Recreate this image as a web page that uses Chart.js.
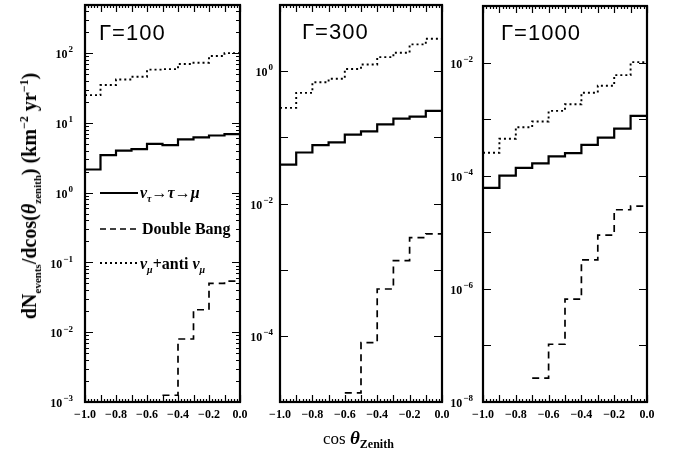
<!DOCTYPE html>
<html>
<head>
<meta charset="utf-8">
<script src="https://cdn.jsdelivr.net/npm/chart.js@4.4.1/dist/chart.umd.min.js"></script>
<style>
  html, body { margin: 0; padding: 0; background: #fff; }
  #wrap { position: relative; width: 678px; height: 451px; overflow: hidden; }
  canvas { position: absolute; left: 0; top: 0; }
  .txt { position: absolute; white-space: nowrap; color: #000; line-height: 1; }
  .gam { font-family: "Liberation Sans", Arial, sans-serif; font-size: 22px; letter-spacing: 1px; }
  .leg { font-family: "Liberation Serif", serif; font-weight: bold; font-size: 16px; transform: translateY(-50%); }
  .leg i { font-style: italic; }
  sub, sup { line-height: 0; }
</style>
</head>
<body>
<div id="wrap">
  <canvas id="c100" width="678" height="451"></canvas>
  <canvas id="c300" width="678" height="451"></canvas>
  <canvas id="c1000" width="678" height="451"></canvas>

  <div class="txt gam" style="left:99px; top:22px;">&Gamma;=100</div>
  <div class="txt gam" style="left:302px; top:21px;">&Gamma;=300</div>
  <div class="txt gam" style="left:501px; top:22px;">&Gamma;=1000</div>

  <svg style="position:absolute; left:100px; top:185px;" width="42" height="90">
    <line x1="0" y1="8" x2="38" y2="8" stroke="#000" stroke-width="2"/>
    <line x1="0" y1="44" x2="40" y2="44" stroke="#000" stroke-width="1.6" stroke-dasharray="6,4"/>
    <line x1="0" y1="78" x2="38" y2="78" stroke="#000" stroke-width="1.8" stroke-dasharray="2,3"/>
  </svg>
  <div class="txt leg" style="left:140px; top:193px;"><i>&nu;</i><sub style="font-size:10px"><i>&tau;</i></sub>&rarr;<i>&tau;</i>&rarr;<i>&mu;</i></div>
  <div class="txt leg" style="left:142px; top:229px;">Double Bang</div>
  <div class="txt leg" style="left:140px; top:264px;"><i>&nu;</i><sub style="font-size:10px"><i>&mu;</i></sub>+anti <i>&nu;</i><sub style="font-size:10px"><i>&mu;</i></sub></div>

  <div class="txt" style="left:29px; top:196px; transform: translate(-50%,-50%) rotate(-90deg); font-family:'Liberation Serif',serif; font-weight:bold; font-size:20px;">dN<sub style="font-size:11px">events</sub>/dcos(<i>&theta;</i><sub style="font-size:11px">zenith</sub>) (km<sup style="font-size:12px">&minus;2</sup> yr<sup style="font-size:12px">&minus;1</sup>)</div>

  <div class="txt" style="left:323px; top:428px; font-family:'Liberation Serif',serif; font-size:17px;">cos <b><i style="font-size:19px">&theta;</i></b><sub style="font-size:12px; font-weight:bold;">Zenith</sub></div>
</div>

<script>
// bin edges of cos(theta_zenith)
const edges = [-1.0, -0.9, -0.8, -0.7, -0.6, -0.5, -0.4, -0.3, -0.2, -0.1, 0.0];
const xTickValues = [-1.0, -0.8, -0.6, -0.4, -0.2, 0.0];

// Gamma = 100
const g100Tau  = [2.15, 3.45, 4.0, 4.2, 5.0, 4.8, 5.8, 6.2, 6.6, 6.9];
const g100Bang = [null, null, null, null, null, 1.25e-3, 8.0e-3, 0.021, 0.050, 0.054];
const g100Mu   = [25, 35, 42, 46, 58, 59, 70, 73, 91, 100];

// Gamma = 300
const g300Tau  = [0.0386, 0.059, 0.076, 0.084, 0.11, 0.123, 0.157, 0.192, 0.206, 0.251];
const g300Bang = [null, null, null, null, 1.37e-5, 7.9e-5, 5.1e-4, 1.37e-3, 3.05e-3, 3.47e-3];
const g300Mu   = [0.279, 0.47, 0.68, 0.77, 1.08, 1.26, 1.63, 1.90, 2.54, 3.09];

// Gamma = 1000
const g1000Tau  = [6.1e-5, 1.0e-4, 1.38e-4, 1.65e-4, 2.2e-4, 2.5e-4, 3.5e-4, 4.7e-4, 6.8e-4, 1.14e-3];
const g1000Bang = [null, null, null, 2.65e-8, 1.05e-7, 6.6e-7, 3.25e-6, 8.9e-6, 2.5e-5, 2.9e-5];
const g1000Mu   = [2.54e-4, 4.5e-4, 7.2e-4, 9.1e-4, 1.4e-3, 1.83e-3, 2.93e-3, 3.9e-3, 6.0e-3, 0.0102];

// labelled decades on each y axis
const yTicks100  = [1e-3, 1e-2, 1e-1, 1e0, 1e1, 1e2];
const yTicks300  = [1e-4, 1e-2, 1e0];
const yTicks1000 = [1e-8, 1e-6, 1e-4, 1e-2];

const W = 678, H = 451;
const serif = "'Liberation Serif', serif";
const tickFont = { family: serif, size: 12, weight: 'bold' };

function histPoints(vals) {
  return edges.map((x, i) => ({ x: x, y: vals[Math.min(i, vals.length - 1)] }));
}

function fmtX(v) {
  if (Math.abs(v) < 1e-9) return '0.0';
  return (v < 0 ? '\u2212' : '') + Math.abs(v).toFixed(1);
}

// box around the plot, inward ticks on all four sides, and 10^n labels
const frameTicks = {
  id: 'frameTicks',
  afterDatasetsDraw(chart, args, opts) {
    const { ctx, chartArea: a } = chart;
    const x = chart.scales.x, y = chart.scales.y;
    ctx.save();
    ctx.strokeStyle = '#000';
    ctx.lineWidth = 1.2;
    ctx.beginPath();
    for (let i = 0; i <= 50; i++) {
      const px = Math.round(x.getPixelForValue(-1 + i * 0.02)) + 0.5;
      const len = i % 5 === 0 ? 7 : 3;
      ctx.moveTo(px, a.bottom); ctx.lineTo(px, a.bottom - len);
      ctx.moveTo(px, a.top); ctx.lineTo(px, a.top + len);
    }
    const lo = Math.ceil(Math.log10(y.min) - 1e-9), hi = Math.floor(Math.log10(y.max) + 1e-9);
    for (let e = lo - 1; e <= hi; e++) {
      for (let m = 1; m <= 9; m++) {
        if (m > 1 && !opts.minor) continue;
        const v = m * Math.pow(10, e);
        if (v < y.min * 0.999 || v > y.max * 1.001) continue;
        const py = Math.round(y.getPixelForValue(v)) + 0.5;
        const len = m === 1 ? 8 : 4;
        ctx.moveTo(a.left, py); ctx.lineTo(a.left + len, py);
        ctx.moveTo(a.right, py); ctx.lineTo(a.right - len, py);
      }
    }
    ctx.stroke();
    ctx.lineWidth = 2.2;
    ctx.strokeRect(a.left, a.top, a.width, a.height);

    // y labels: "10" with a raised exponent
    ctx.fillStyle = '#000';
    ctx.textBaseline = 'middle';
    ctx.textAlign = 'left';
    (opts.labels || []).forEach(v => {
      const exp = String(Math.round(Math.log10(v))).replace('-', '\u2212');
      const py = y.getPixelForValue(v);
      ctx.font = 'bold 9px ' + serif;
      const ew = ctx.measureText(exp).width;
      ctx.font = 'bold 12px ' + serif;
      const bw = ctx.measureText('10').width;
      const right = a.left - opts.pad;
      ctx.fillText('10', right - ew - bw - 1, py + 2);
      ctx.font = 'bold 9px ' + serif;
      ctx.fillText(exp, right - ew, py - 3);
    });
    ctx.restore();
  }
};

function makePanel(id, box, yMin, yMax, yTicks, labelPad, minor, tau, bang, mu) {
  const yW = 50, xH = 30;
  new Chart(document.getElementById(id), {
    type: 'line',
    data: {
      datasets: [
        { data: histPoints(mu), stepped: true, borderColor: '#000', borderWidth: 1.9, borderDash: [2, 3], pointRadius: 0, fill: false },
        { data: histPoints(tau), stepped: true, borderColor: '#000', borderWidth: 2.2, pointRadius: 0, fill: false },
        { data: histPoints(bang), stepped: true, borderColor: '#000', borderWidth: 1.7, borderDash: [7, 5], pointRadius: 0, fill: false, spanGaps: false }
      ]
    },
    options: {
      responsive: false,
      animation: false,
      devicePixelRatio: 1,
      layout: { padding: { left: box.left - yW, right: W - box.right, top: box.top, bottom: H - box.bottom - xH } },
      plugins: {
        legend: { display: false },
        tooltip: { enabled: false },
        frameTicks: { minor: minor, labels: yTicks, pad: labelPad }
      },
      scales: {
        x: {
          type: 'linear', min: -1, max: 0,
          grid: { display: false, drawTicks: false },
          border: { display: false },
          afterBuildTicks: s => { s.ticks = xTickValues.map(v => ({ value: v })); },
          afterFit: s => { s.height = xH; s.paddingLeft = 0; s.paddingRight = 0; },
          ticks: { padding: 6, maxRotation: 0, autoSkip: false, color: '#000', font: tickFont, callback: v => fmtX(v) }
        },
        y: {
          type: 'logarithmic', min: yMin, max: yMax,
          grid: { display: false, drawTicks: false },
          border: { display: false },
          afterBuildTicks: s => { s.ticks = yTicks.map(v => ({ value: v })); },
          afterFit: s => { s.width = yW; s.paddingTop = 0; s.paddingBottom = 0; },
          ticks: { display: false }
        }
      }
    },
    plugins: [frameTicks]
  });
}

makePanel('c100',  { left: 85,  right: 240, top: 5, bottom: 402 }, 1e-3, 490, yTicks100, 12, true,  g100Tau,  g100Bang,  g100Mu);
makePanel('c300',  { left: 280, right: 442, top: 5, bottom: 402 }, 1e-5, 10,  yTicks300, 7,  false, g300Tau,  g300Bang,  g300Mu);
makePanel('c1000', { left: 483, right: 647, top: 6, bottom: 402 }, 1e-8, 0.1, yTicks1000, 10, false, g1000Tau, g1000Bang, g1000Mu);
</script>
</body>
</html>
